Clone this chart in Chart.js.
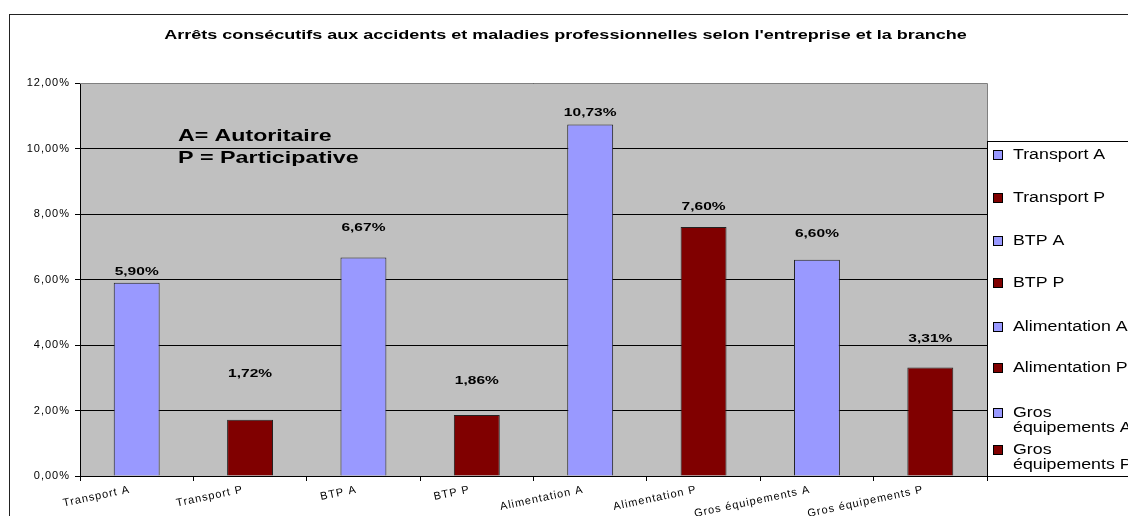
<!DOCTYPE html>
<html>
<head>
<meta charset="utf-8">
<script src="https://cdn.jsdelivr.net/npm/chart.js@4"></script>
<style>
  html, body { margin: 0; padding: 0; background: #fff; }
  canvas { display: block; }
</style>
</head>
<body>
<canvas id="chart" width="1128" height="516"></canvas>
<script>
const title = "Arrêts consécutifs aux accidents et maladies professionnelles selon l'entreprise et la branche";
const categories = ["Transport A", "Transport P", "BTP A", "BTP P", "Alimentation A", "Alimentation P", "Gros équipements A", "Gros équipements P"];
const values = [5.90, 1.72, 6.67, 1.86, 10.73, 7.60, 6.60, 3.31];
// levels (in %) where the value labels were dragged to in the original
const labelLevels = [6.23, 3.11, 7.57, 2.90, 11.08, 8.21, 7.39, 4.18];
const barColors = ["#9999ff", "#800000", "#9999ff", "#800000", "#9999ff", "#800000", "#9999ff", "#800000"];
const legendLines = [["Transport A"], ["Transport P"], ["BTP A"], ["BTP P"], ["Alimentation A"], ["Alimentation P"], ["Gros", "équipements A"], ["Gros", "équipements P"]];
const notes = ["A= Autoritaire", "P = Participative"];
const yMin = 0, yMax = 12, yStep = 2;

const FONT = 'Arial, "Liberation Sans", sans-serif';

function pct(v) {
  return v.toFixed(2).replace(".", ",") + "%";
}

// the source image is stretched sideways, so text is drawn wider than tall
function wideText(ctx, text, x, y, sx, align) {
  ctx.save();
  ctx.letterSpacing = "0px";
  ctx.translate(x, y);
  ctx.scale(sx, 1);
  ctx.textAlign = align || "left";
  ctx.textBaseline = "middle";
  ctx.fillText(text, 0, 0);
  ctx.restore();
}

const excelLook = {
  id: "excelLook",
  beforeDraw(chart) {
    const { ctx, chartArea: a } = chart;
    ctx.save();
    ctx.fillStyle = "#fff";
    ctx.fillRect(0, 0, chart.width, chart.height);
    ctx.strokeStyle = "#222";
    ctx.lineWidth = 1;
    ctx.strokeRect(9.5, 14.5, chart.width + 20, chart.height + 20);
    ctx.fillStyle = "#c0c0c0";
    ctx.fillRect(a.left, a.top, a.right - a.left, a.bottom - a.top);
    ctx.restore();
    ctx.letterSpacing = "1px";
  },
  afterDatasetsDraw(chart) {
    const ctx = chart.ctx;
    const meta = chart.getDatasetMeta(0);
    const y = chart.scales.y;
    ctx.save();
    ctx.fillStyle = "#000";
    ctx.font = "bold 11.5px " + FONT;
    meta.data.forEach((bar, i) => {
      wideText(ctx, pct(values[i]), bar.x, y.getPixelForValue(labelLevels[i]), 1.35, "center");
    });
    ctx.restore();
  },
  afterDraw(chart) {
    const { ctx, chartArea: a } = chart;
    ctx.save();
    // plot area border, top and right
    ctx.strokeStyle = "#808080";
    ctx.lineWidth = 1;
    ctx.beginPath();
    ctx.moveTo(a.left, Math.round(a.top) + 0.5);
    ctx.lineTo(Math.round(a.right) + 0.5, Math.round(a.top) + 0.5);
    ctx.lineTo(Math.round(a.right) + 0.5, a.bottom);
    ctx.stroke();

    ctx.fillStyle = "#000";
    ctx.font = "bold 12px " + FONT;
    wideText(ctx, title, 565.5, 36, 1.5, "center");

    ctx.font = "bold 17px " + FONT;
    wideText(ctx, notes[0], 178, 136, 1.36);
    wideText(ctx, notes[1], 178, 158, 1.37);

    // legend box
    const lx = 987, ly = 141, lb = 476;
    ctx.fillStyle = "#fff";
    ctx.fillRect(lx, ly, chart.width - lx + 5, lb - ly);
    ctx.strokeStyle = "#000";
    ctx.strokeRect(lx + 0.5, ly + 0.5, chart.width, lb - ly);
    const rowY = [155, 198, 241, 283, 327, 368, 413, 450];
    ctx.font = "14px " + FONT;
    legendLines.forEach((lines, i) => {
      ctx.fillStyle = barColors[i];
      ctx.fillRect(994, rowY[i] - 4, 8, 8);
      ctx.strokeStyle = "#000";
      ctx.strokeRect(993.5, rowY[i] - 4.5, 9, 9);
      ctx.fillStyle = "#000";
      lines.forEach((t, k) => wideText(ctx, t, 1013, rowY[i] + k * 15, 1.27));
    });
    ctx.restore();
  }
};

new Chart(document.getElementById("chart"), {
  type: "bar",
  data: {
    labels: categories,
    datasets: [{
      data: values,
      backgroundColor: barColors,
      borderColor: "#222",
      borderWidth: 1,
      barPercentage: 0.405,
      categoryPercentage: 1
    }]
  },
  options: {
    responsive: false,
    animation: false,
    devicePixelRatio: 1,
    layout: { padding: { left: 10, top: 83, right: 141, bottom: 0 } },
    plugins: {
      legend: { display: false },
      title: { display: false },
      tooltip: { enabled: false }
    },
    scales: {
      x: {
        grid: { drawOnChartArea: false, drawTicks: true, tickLength: 5, offset: true, color: "#000" },
        border: { color: "#000" },
        ticks: {
          color: "#000",
          font: { family: FONT, size: 11 },
          minRotation: 12,
          maxRotation: 12,
          autoSkip: false,
          padding: 2,
          labelOffset: -7
        },
        afterFit(s) { s.height = 40; }
      },
      y: {
        min: yMin,
        max: yMax,
        ticks: {
          stepSize: yStep,
          callback: v => pct(v),
          color: "#000",
          font: { family: FONT, size: 11 },
          padding: 5
        },
        grid: { color: "#000", tickLength: 5 },
        border: { color: "#000" },
        afterFit(s) { s.width = 70; }
      }
    }
  },
  plugins: [excelLook]
});
</script>
</body>
</html>
